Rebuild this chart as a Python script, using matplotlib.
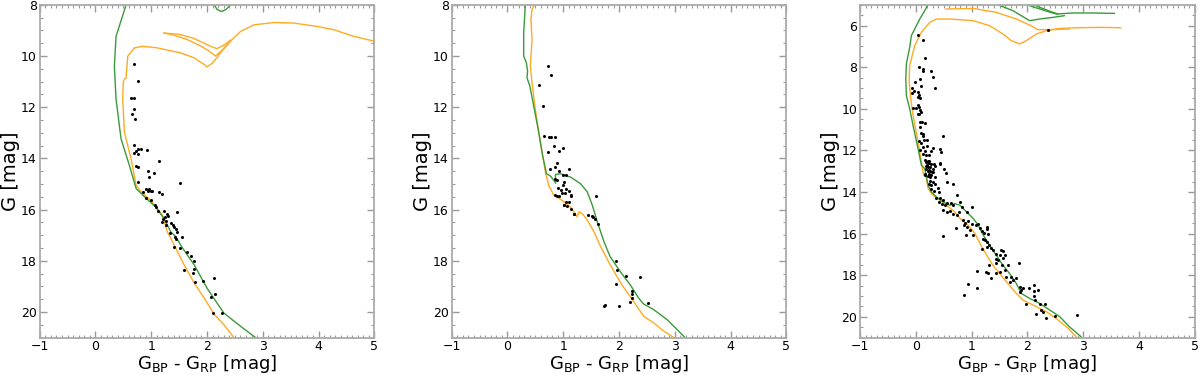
import numpy as np
import matplotlib
matplotlib.use("Agg")
import matplotlib.pyplot as plt
from matplotlib.ticker import MultipleLocator

# ---------------- panel 1 ----------------
p1_bprp = [0.70, 0.76, 0.63, 0.70, 0.70, 0.65, 0.71, 0.70, 0.69, 0.73, 0.76, 0.81, 0.77, 0.92,
           0.73, 0.76, 1.14, 0.95, 1.05, 0.96, 1.52, 0.77, 0.85, 0.91, 0.94, 0.96, 0.99, 1.02,
           1.14, 1.20, 0.91, 0.99, 1.07, 1.08, 1.13, 1.23, 1.29, 1.21, 1.24, 1.27, 1.30, 1.47,
           1.20, 1.26, 1.35, 1.39, 1.41, 1.44, 1.33, 1.46, 1.42, 1.45, 1.56, 1.41, 1.51, 1.65,
           1.71, 1.77, 1.76, 1.58, 1.75, 1.79, 1.92, 2.13, 2.14, 2.08, 2.11, 2.26]
p1_g = [10.30, 10.98, 11.65, 11.65, 12.05, 12.28, 12.47, 13.48, 13.79, 13.70, 13.63, 13.63, 13.83, 13.66,
        14.28, 14.34, 14.12, 14.49, 14.59, 14.74, 14.95, 14.93, 15.31, 15.20, 15.29, 15.18, 15.29, 15.26,
        15.31, 15.38, 15.55, 15.62, 15.81, 15.91, 16.04, 16.07, 16.19, 16.35, 16.28, 16.43, 16.27, 16.09,
        16.48, 16.61, 16.54, 16.60, 16.69, 16.76, 16.91, 16.87, 17.06, 17.15, 17.09, 17.45, 17.52, 17.64,
        17.80, 18.00, 18.32, 18.36, 18.46, 18.82, 18.81, 18.68, 19.29, 19.42, 20.05, 20.03]

p1_green_x = [0.55, 0.37, 0.34, 0.37, 0.46, 0.61, 0.73, 0.88, 1.08, 1.23, 1.35, 1.44, 1.56, 1.77,
              2.00, 2.30, 2.60, 2.87]
p1_green_y = [8.00, 9.23, 10.40, 11.69, 13.24, 14.28, 15.18, 15.50, 15.90, 16.35, 16.87, 17.06, 17.50,
              18.16, 19.07, 20.04, 20.56, 21.00]
p1_green_top_x = [2.13, 2.18, 2.26, 2.34, 2.42]
p1_green_top_y = [8.00, 8.18, 8.26, 8.18, 8.00]

p1_orange_x = [2.48, 2.30, 2.13, 1.95, 1.77, 1.59, 1.41, 1.29, 1.20, 1.11, 0.99, 0.82, 0.73, 0.64,
               0.52, 0.49, 0.50, 0.52, 0.55, 0.58, 0.70, 0.85, 1.11, 1.53, 1.77, 1.95, 2.00, 2.10,
               2.24, 2.42, 2.60, 2.84, 3.20, 3.55, 3.97, 4.27, 4.63, 5.00]
p1_orange_y = [21.00, 20.49, 20.10, 19.46, 18.87, 18.16, 17.38, 16.87, 16.22, 15.96, 15.64, 15.31, 15.06,
               14.02, 12.98, 11.69, 11.00, 10.91, 10.85, 10.00, 9.68, 9.62, 9.68, 9.88, 10.07, 10.33,
               10.43, 10.27, 9.88, 9.42, 9.04, 8.78, 8.69, 8.71, 8.84, 8.97, 9.23, 9.42]
p1_loop_a_x = [1.23, 1.40, 1.65, 1.90, 2.04, 2.15, 2.28, 2.42]
p1_loop_a_y = [9.10, 9.18, 9.36, 9.62, 9.81, 10.00, 9.75, 9.42]
p1_loop_b_x = [1.23, 1.50, 1.75, 1.95, 2.10, 2.18, 2.30, 2.42]
p1_loop_b_y = [9.10, 9.15, 9.30, 9.50, 9.65, 9.71, 9.58, 9.38]

# ---------------- panel 2 ----------------
p2_bprp = [0.72, 0.78, 0.57, 0.63, 0.65, 0.75, 0.78, 0.85, 0.83, 0.99, 0.93, 0.72, 0.89, 0.86,
           0.77, 1.11, 0.93, 0.99, 1.05, 0.86, 0.89, 1.02, 0.99, 0.90, 1.05, 0.96, 0.98, 1.11,
           1.03, 1.14, 1.13, 0.86, 0.88, 0.92, 1.58, 1.04, 1.10, 1.01, 1.07, 1.13, 1.02, 1.19,
           1.20, 1.44, 1.52, 1.56, 1.53, 1.63, 1.95, 1.97, 2.12, 2.38, 1.94, 2.24, 2.23, 2.19,
           2.23, 2.52, 1.73, 1.74, 1.99]
p2_g = [10.39, 10.73, 11.15, 11.95, 13.14, 13.18, 13.18, 13.18, 13.51, 13.60, 13.73, 13.76, 14.17, 14.32,
        14.41, 14.41, 14.51, 14.64, 14.64, 14.80, 14.86, 14.93, 15.03, 15.15, 15.18, 15.25, 15.34, 15.27,
        15.35, 15.42, 15.47, 15.42, 15.48, 15.48, 15.47, 15.72, 15.72, 15.83, 15.86, 15.99, 15.81, 16.18,
        16.19, 16.21, 16.25, 16.35, 16.30, 16.56, 18.01, 18.36, 18.59, 18.63, 18.91, 19.20, 19.30, 19.60,
        19.46, 19.65, 19.78, 19.72, 19.78]

p2_green_x = [0.32, 0.29, 0.29, 0.34, 0.36, 0.35, 0.40, 0.47, 0.56, 0.63, 0.70, 0.77, 0.86, 0.86,
              0.86, 0.95, 1.13, 1.31, 1.43, 1.52, 1.61, 1.73, 1.84, 2.02, 2.20, 2.35, 2.44, 2.62,
              2.86, 3.04, 3.18]
p2_green_y = [8.00, 9.10, 10.00, 10.27, 10.59, 10.85, 11.17, 11.95, 12.98, 13.89, 14.60, 14.69, 14.93,
              14.96, 14.63, 14.60, 14.73, 14.99, 15.31, 15.83, 16.48, 17.26, 17.84, 18.42, 18.94, 19.46,
              19.69, 19.91, 20.30, 20.69, 21.00]

p2_orange_x = [0.48, 0.44, 0.42, 0.44, 0.41, 0.44, 0.49, 0.56, 0.62, 0.68, 0.74, 0.83, 0.98, 1.13,
               1.25, 1.28, 1.34, 1.43, 1.55, 1.67, 1.84, 2.05, 2.26, 2.44, 2.62, 2.80, 2.98]
p2_orange_y = [8.00, 8.19, 8.58, 9.36, 10.39, 11.04, 11.95, 12.98, 13.76, 14.54, 15.06, 15.44, 15.64,
               15.90, 16.28, 16.09, 16.16, 16.41, 16.87, 17.45, 18.16, 18.94, 19.59, 20.17, 20.43, 20.75,
               21.00]

# ---------------- panel 3 ----------------
p3_bprp = [0.03, 0.12, 0.17, 0.05, 0.13, 0.12, 0.27, 0.31, -0.01, 0.07, 0.34, -0.06, -0.04, -0.06,
           0.03, 0.06, 0.09, 0.04, 0.08, 0.03, 0.06, -0.05, 0.00, 0.07, 0.05, 0.09, 0.03, 0.08,
           0.11, 0.17, 0.07, 0.09, 0.12, 0.13, 0.49, 0.05, 0.15, 0.20, 0.09, 0.12, 0.20, 0.31,
           0.43, 0.45, 0.07, 0.12, 0.18, 0.23, 0.17, 0.27, 0.18, 0.22, 0.24, 0.20, 0.25, 0.19,
           0.23, 0.26, 0.32, 0.44, 0.51, 0.54, 0.17, 0.21, 0.28, 0.31,
           0.17, 0.21, 0.24, 0.44, 0.18, 0.22, 0.28, 0.35, 0.21, 0.24, 0.29, 0.31, 0.17, 0.25,
           0.34, 0.26, 0.31, 0.23, 0.28, 0.34, 0.39, 0.28, 0.32, 0.41, 0.55, 0.66, 0.73, 0.37,
           0.43, 0.49, 0.41, 0.47, 0.53, 0.56, 0.63, 0.67, 0.79, 0.82, 1.01, 0.49, 0.55, 0.61,
           0.67, 0.73, 0.78, 0.91, 0.72, 0.49, 0.84, 0.88, 0.94, 0.86, 0.91, 0.90, 0.97, 1.01,
           1.07, 1.12, 1.03, 1.15, 1.18, 1.22, 1.27, 1.28, 1.21, 1.24, 1.27, 1.29, 1.19, 1.27,
           1.32, 1.35, 1.38, 1.53, 1.57, 1.44, 1.50, 1.59, 1.43, 1.47, 1.56, 1.32, 1.44, 1.54,
           1.65, 1.85, 1.10, 1.25, 1.29, 1.44, 1.50, 1.59, 1.35, 1.62, 1.71, 1.74, 1.80, 1.68,
           1.86, 1.89, 1.92, 1.86, 0.93, 1.09, 0.87, 1.97, 2.03, 2.11, 2.12, 2.19, 2.11, 2.13,
           2.22, 2.16, 2.25, 2.31, 2.28, 2.33, 2.50, 2.89, 2.36]
p3_g = [6.45, 6.67, 7.57, 7.97, 8.08, 8.16, 8.19, 8.48, 8.72, 8.56, 9.01, 9.01, 9.15, 9.26,
        9.20, 9.33, 8.91, 9.44, 9.49, 9.81, 9.92, 9.97, 9.97, 10.08, 10.24, 10.16, 10.24, 10.61,
        10.61, 10.67, 10.88, 11.17, 11.20, 11.31, 11.33, 11.57, 11.52, 11.52, 11.63, 11.84, 11.81, 11.89,
        11.92, 12.08, 12.00, 12.16, 12.24, 12.24, 12.05, 12.05, 12.56, 12.53, 12.61, 12.72, 12.80, 12.88,
        12.96, 13.01, 12.64, 12.64, 12.88, 13.07, 13.12, 13.23, 13.17, 13.04,
        12.48, 12.56, 12.53, 12.59, 12.75, 12.80, 12.64, 12.75, 13.01, 13.12, 13.04, 12.91, 13.20, 13.28,
        13.28, 13.49, 13.52, 13.60, 13.68, 13.60, 13.81, 13.87, 13.97, 14.00, 13.52, 13.60, 14.13, 14.29,
        14.29, 14.40, 14.48, 14.56, 14.64, 14.51, 14.51, 14.64, 14.48, 14.72, 14.72, 14.88, 14.96, 14.93,
        15.04, 15.12, 14.96, 14.96, 15.73, 16.11, 15.36, 15.49, 15.41, 15.60, 15.68, 16.08, 15.84, 15.52,
        15.57, 15.52, 16.05, 15.73, 15.89, 15.95, 15.68, 15.79, 16.24, 16.32, 16.40, 16.00, 16.72, 16.64,
        16.53, 16.69, 16.80, 16.80, 16.85, 16.96, 17.04, 17.04, 17.20, 17.28, 17.17, 17.52, 17.44, 17.52,
        17.52, 17.41, 17.79, 17.84, 17.92, 17.92, 17.84, 17.76, 18.13, 18.08, 18.08, 18.24, 18.16, 18.32,
        18.56, 18.72, 18.61, 18.80, 18.45, 18.64, 18.96, 19.41, 18.61, 18.48, 18.77, 18.72, 18.99, 19.20,
        19.41, 19.89, 19.68, 19.38, 19.76, 20.05, 19.95, 19.92, 6.19]

p3_green_x = [0.22, 0.16, 0.07, -0.02, -0.08, -0.11, -0.14, -0.17, -0.18, -0.17, -0.11, -0.05, 0.04,
              0.10, 0.16, 0.22, 0.28, 0.37, 0.49, 0.61, 0.70, 0.79, 0.91, 1.03, 1.12, 1.21, 1.32,
              1.44, 1.56, 1.68, 1.80, 1.89, 2.04, 2.22, 2.40, 2.58, 2.75, 2.96]
p3_green_y = [4.96, 5.28, 5.68, 6.16, 6.48, 7.04, 7.44, 7.84, 8.56, 9.36, 10.00, 10.80, 11.92,
              12.72, 12.88, 13.68, 14.00, 14.24, 14.48, 14.64, 14.56, 14.64, 14.96, 15.28, 15.60, 16.08,
              16.56, 17.04, 17.52, 17.92, 18.40, 18.88, 19.12, 19.36, 19.68, 20.00, 20.48, 20.96]
p3_green_a_x = [1.44, 1.74, 2.04, 2.22, 2.46, 2.66]
p3_green_a_y = [4.96, 5.28, 5.76, 5.68, 5.60, 5.52]
p3_green_b_x = [1.95, 2.20, 2.40, 2.52, 2.81, 3.17, 3.56]
p3_green_b_y = [4.96, 5.18, 5.35, 5.44, 5.39, 5.39, 5.41]
p3_green_c_x = [2.08, 2.28, 2.45, 2.55]
p3_green_c_y = [4.96, 5.18, 5.35, 5.44]

p3_orange_x = [2.87, 2.73, 2.55, 2.34, 2.10, 1.92, 1.80, 1.65, 1.50, 1.38, 1.27, 1.15, 1.06, 0.94,
               0.82, 0.70, 0.55, 0.43, 0.31, 0.22, 0.18, 0.14, 0.09, 0.03, -0.05, -0.09, -0.12, -0.11,
               -0.08, -0.02, 0.10, 0.25, 0.37, 0.61, 1.03, 1.32, 1.56, 1.71, 1.86, 1.98, 2.16, 2.34,
               2.58, 2.93, 3.29, 3.67]
p3_orange_y = [20.96, 20.56, 20.16, 19.76, 19.44, 19.20, 18.88, 18.40, 17.92, 17.52, 17.04, 16.48, 16.00,
               15.60, 15.36, 14.96, 14.64, 14.40, 14.16, 13.84, 13.20, 13.20, 12.40, 11.44, 10.32, 9.52,
               8.72, 7.92, 7.60, 6.96, 6.32, 5.84, 5.68, 5.68, 5.76, 6.00, 6.40, 6.72, 6.88, 6.72,
               6.40, 6.24, 6.13, 6.10, 6.08, 6.10]
p3_orange_top_x = [0.54, 1.03, 1.44, 1.80, 2.04, 2.19, 2.46, 2.75]
p3_orange_top_y = [5.20, 5.17, 5.36, 5.68, 5.97, 6.19, 6.19, 6.16]

panels = [
    dict(pts=(p1_bprp, p1_g), ylim=(21, 8),
         green=[(p1_green_x, p1_green_y), (p1_green_top_x, p1_green_top_y)],
         orange=[(p1_orange_x, p1_orange_y), (p1_loop_a_x, p1_loop_a_y), (p1_loop_b_x, p1_loop_b_y)]),
    dict(pts=(p2_bprp, p2_g), ylim=(21, 8),
         green=[(p2_green_x, p2_green_y)],
         orange=[(p2_orange_x, p2_orange_y)]),
    dict(pts=(p3_bprp, p3_g), ylim=(21, 5),
         green=[(p3_green_x, p3_green_y), (p3_green_a_x, p3_green_a_y),
                (p3_green_b_x, p3_green_b_y), (p3_green_c_x, p3_green_c_y)],
         orange=[(p3_orange_x, p3_orange_y), (p3_orange_top_x, p3_orange_top_y)]),
]

lefts = [0.033, 0.3764, 0.7167]
fig = plt.figure(figsize=(12, 3.75), dpi=100)

for left, p in zip(lefts, panels):
    ax = fig.add_axes([left, 0.1, 0.279, 0.887])
    for x, y in p["orange"]:
        ax.plot(x, y, color="#ffaa22", lw=1.0)
    for x, y in p["green"]:
        ax.plot(x, y, color="#3a9a3a", lw=1.0)
    ax.plot(p["pts"][0], p["pts"][1], "o", color="black", ms=2.2, mew=0)
    ax.set_xlim(-1, 5)
    ax.set_ylim(*p["ylim"])
    ax.xaxis.set_major_locator(MultipleLocator(1))
    ax.xaxis.set_minor_locator(MultipleLocator(0.1))
    ax.yaxis.set_major_locator(MultipleLocator(2))
    ax.yaxis.set_minor_locator(MultipleLocator(0.5))
    ax.tick_params(which="both", direction="in", top=True, right=True, color="#999999",
                   labelsize=9, pad=2)
    ax.tick_params(which="major", length=5, width=1)
    ax.tick_params(which="minor", length=2.5, width=0.8)
    for s in ax.spines.values():
        s.set_color("#aaaaaa")
        s.set_linewidth(1.3)
    ax.set_xlabel(r"G$_{\mathrm{BP}}$ - G$_{\mathrm{RP}}$ [mag]", fontsize=13, labelpad=0)
    ax.set_ylabel("G [mag]", fontsize=14, labelpad=1)

fig.savefig("out.png", dpi=100)
